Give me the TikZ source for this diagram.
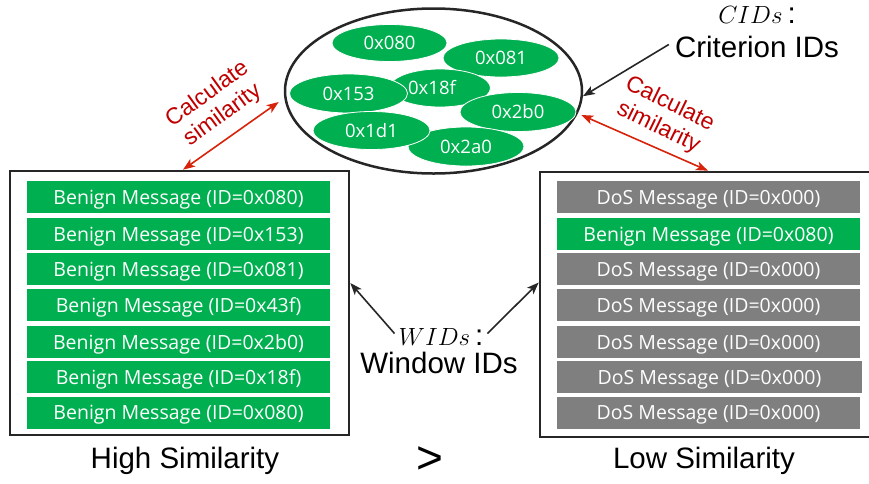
\documentclass[tikz,border=0pt]{standalone}
\usepackage{fontspec}
\setmainfont{Liberation Sans}
\newfontfamily\msgfont{Open Sans}
\usetikzlibrary{shapes.geometric,arrows.meta}
\definecolor{msggreen}{RGB}{0,176,80}
\definecolor{dosgray}{RGB}{127,127,127}
\definecolor{simred}{RGB}{192,0,0}
\definecolor{arrowred}{RGB}{215,35,10}
\tikzset{
  winbox/.style={rectangle,draw=black!85,line width=2.6pt,inner sep=0pt},
  msg/.style={rectangle,inner sep=0pt,minimum width=303pt,minimum height=32pt,
    text height=14pt,text depth=0pt,
    text=white,font=\msgfont\fontsize{19.5}{19.5}\selectfont},
  benign/.style={msg,fill=msggreen},
  dos/.style={msg,fill=dosgray},
  idell/.style={ellipse,fill=msggreen,draw=white,line width=0.8pt,inner sep=0pt,
    text height=13.2pt,text depth=0pt,
    text=white,font=\msgfont\fontsize{18.5}{18.5}\selectfont},
  lbl/.style={anchor=base,inner sep=0pt,font=\fontsize{29.5}{29.5}\selectfont},
  simlbl/.style={text=simred,align=center,inner sep=0pt,
    font=\fontsize{23}{26}\selectfont},
  tipk/.tip={Stealth[length=12pt,width=9pt,inset=3pt]},
  ptr/.style={-tipk,line width=1.6pt,draw=black!85},
  simarrow/.style={tipk-tipk,line width=1.6pt,draw=arrowred}
}
\begin{document}
\begin{tikzpicture}[x=1pt,y=-1pt]
\path[use as bounding box,clip] (0,0) rectangle (869,483);

% window frames
\node[winbox,minimum width=339pt,minimum height=264pt] (winL) at (179.5,303) {};
\node[winbox,minimum width=331pt,minimum height=265pt] (winR) at (705.5,304.5) {};

% messages inside the left window
\node[benign] (l1) at (178.5,197)   {Benign Message (ID=0x080)};
\node[benign] (l2) at (178.5,234)   {Benign Message (ID=0x153)};
\node[benign] (l3) at (178.5,269)   {Benign Message (ID=0x081)};
\node[benign] (l4) at (178.5,305)   {Benign Message (ID=0x43f)};
\node[benign] (l5) at (178.5,342)   {Benign Message (ID=0x2b0)};
\node[benign] (l6) at (178.5,377)   {Benign Message (ID=0x18f)};
\node[benign] (l7) at (178.5,412.5) {Benign Message (ID=0x080)};

% messages inside the right window
\node[dos]    (r1) at (708.5,197)   {DoS Message (ID=0x000)};
\node[benign] (r2) at (708.5,234)   {Benign Message (ID=0x080)};
\node[dos]    (r3) at (708.5,269)   {DoS Message (ID=0x000)};
\node[dos]    (r4) at (708.5,305)   {DoS Message (ID=0x000)};
\node[dos]    (r5) at (708.5,342)   {DoS Message (ID=0x000)};
\node[dos,minimum width=305pt] (r6) at (709.5,377) {DoS Message (ID=0x000)};
\node[dos]    (r7) at (708.5,412.5) {DoS Message (ID=0x000)};

% criterion ID set
\node[ellipse,draw=black!85,line width=2.5pt,minimum width=297pt,minimum height=165pt,inner sep=0pt] (cid) at (433.5,91) {};
\node[idell,minimum width=115pt,minimum height=37pt] (e080) at (389.5,43)  {0x080};
\node[idell,minimum width=116pt,minimum height=38pt] (e081) at (501,58)    {0x081};
\node[idell,minimum width=101pt,minimum height=38pt] (e18f) at (440,88)    {\kern-8pt0x18f\kern8pt};
\node[idell,minimum width=118pt,minimum height=39pt] (e153) at (348.5,93.5){0x153};
\node[idell,minimum width=116pt,minimum height=39pt] (e2b0) at (518,112)   {0x2b0};
\node[idell,minimum width=116pt,minimum height=39pt] (e2a0) at (466,146.5) {0x2a0};
\node[idell,minimum width=117pt,minimum height=38pt] (e1d1) at (371.5,130.5){0x1d1};

% labels
\node[lbl] (cidsym) at (757,23)  {$CIDs$\,:};
\node[lbl] (cidtxt) at (757,57)  {Criterion IDs};
\node[lbl] (widsym) at (441,345) {$WIDs$\,:};
\node[lbl] (widtxt) at (439,373) {Window IDs};
\node[lbl] (hisim)  at (185,468) {High Similarity};
\node[lbl,font=\fontsize{46}{46}\selectfont] (gt) at (430,473) {>};
\node[lbl] (losim)  at (704,468) {Low Similarity};
\node[simlbl,rotate=36]  (simL) at (215,105) {Calculate\\similarity};
\node[simlbl,rotate=-26] (simR) at (664,116) {Calculate\\similarity};

% pointers
\draw[ptr] ([shift={(-6pt,2pt)}]cidtxt.west) -- (cid.-2);
\draw[ptr] ([xshift=-4pt,yshift=3pt]widsym.west) -- ([yshift=20pt]winL.east);
\draw[ptr] ([xshift=4pt,yshift=3pt]widsym.east) -- ([yshift=22pt]winR.west);

% similarity links
\draw[simarrow] ([xshift=-5pt,yshift=-11pt]cid.west) -- ([xshift=3.5pt]winL.north);
\draw[simarrow] ([xshift=-2pt,yshift=-24pt]cid.east) -- ([xshift=2.5pt]winR.north);
\end{tikzpicture}
\end{document}
